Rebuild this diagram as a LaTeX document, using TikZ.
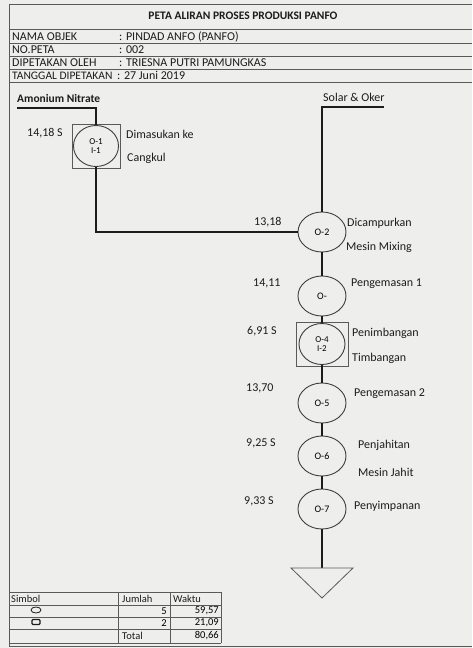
\documentclass[tikz,border=0pt]{standalone}
\usepackage{fontspec}
\setmainfont{Carlito}
\usetikzlibrary{shapes.geometric}
\definecolor{ink}{HTML}{1C1C1C}
\definecolor{paper}{HTML}{EEEEEC}
\definecolor{rulec}{HTML}{5A5A5A}

\begin{document}
\begin{tikzpicture}[x=1pt, y=-1pt, font=\fontsize{12}{13}\selectfont,
    flow/.style={ink, line width=1.7pt},
    opr/.style={ellipse, draw=ink!85, line width=0.9pt, fill=paper,
      minimum width=48pt, minimum height=40pt, inner sep=0pt,
      align=center, font=\fontsize{10}{10}\selectfont},
    insp/.style={rectangle, draw=rulec, line width=0.8pt,
      minimum height=44pt, inner sep=0pt},
    lbl/.style={anchor=west, inner sep=0pt, text=ink}]
    \useasboundingbox[fill=paper] (0,0) rectangle (472,648);
    % frame and header
    \draw[rulec, line width=0.9pt] (472,4) -| (9,646) -- (472,646);
    \foreach \y in {29,43,56,69,82}
      \draw[rulec, line width=0.9pt] (9,\y) -- (472,\y);
    \node[text=ink, font=\fontsize{11.5}{12}\bfseries] (title) at (243,16)
      {PETA ALIRAN PROSES PRODUKSI PANFO};
    \node[lbl] (k1) at (12,37) {NAMA OBJEK};
    \node[lbl] (v1) at (119,37) {: PINDAD ANFO (PANFO)};
    \node[lbl] (k2) at (12,49.5) {NO.PETA};
    \node[lbl] (v2) at (119,49.5) {: 002};
    \node[lbl] (k3) at (12,62.5) {DIPETAKAN OLEH};
    \node[lbl] (v3) at (119,62.5) {: TRIESNA PUTRI PAMUNGKAS};
    \node[lbl, font=\fontsize{11.5}{13}\selectfont] (k4) at (12,75.5)
      {TANGGAL DIPETAKAN};
    \node[lbl] (v4) at (117,75.5) {: 27 Juni 2019};

    % inputs
    \node[lbl, font=\fontsize{11.5}{12}\bfseries] (amn) at (17,99)
      {Amonium Nitrate};
    \node[lbl] (solar) at (323,97) {Solar \& Oker};
    \coordinate (am) at (17,108);
    \coordinate (so) at (384,107);

    % operations
    \node[insp, minimum width=48pt] (b1) at (96,146) {};
    \node[opr, minimum width=45pt, minimum height=41pt,
      font=\fontsize{9}{9}\selectfont] (o1) at (96,146) {O-1\\I-1};
    \node[opr] (o2) at (322,232) {O-2};
    \node[opr] (o3) at (322,296) {O-};
    \node[insp, minimum width=52pt] (b4) at (322,344) {};
    \node[opr, minimum width=46pt, minimum height=41pt,
      font=\fontsize{9}{9}\selectfont] (o4) at (322,344) {O-4\\I-2};
    \node[opr] (o5) at (322,403) {O-5};
    \node[opr] (o6) at (322,456) {O-6};
    \node[opr] (o7) at (322,509) {O-7};
    \coordinate (stor) at (322,568);

    % connectors
    \draw[flow] (am) -| (o1.north);
    \draw[flow] (so) -| (o2.north);
    \draw[flow] (o1.south) |- (o2.west);
    \foreach \a/\b in {o2/o3,o3/o4,o4/o5,o5/o6,o6/o7}
      \draw[flow] (\a.south) -- (\b.north);
    \draw[flow] (o7.south) -- (stor);
    \draw[rulec, line width=0.8pt] (stor) ++(-31,0) -- ++(62,0)
      -- ++(-31,30) -- cycle;

    % times
    \node[lbl] (t1) at (27,133) {14,18 S};
    \node[lbl] (t2) at (254,222) {13,18};
    \node[lbl] (t3) at (253,283) {14,11};
    \node[lbl] (t4) at (247,331) {6,91 S};
    \node[lbl] (t5) at (246,388) {13,70};
    \node[lbl] (t6) at (246,443) {9,25 S};
    \node[lbl] (t7) at (244,501) {9,33 S};

    % descriptions
    \node[lbl] (d1a) at (126,134) {Dimasukan ke};
    \node[lbl] (d1b) at (127,158) {Cangkul};
    \node[lbl] (d2a) at (347,223) {Dicampurkan};
    \node[lbl] (d2b) at (346,247) {Mesin Mixing};
    \node[lbl] (d3) at (351,284) {Pengemasan 1};
    \node[lbl] (d4a) at (352,333) {Penimbangan};
    \node[lbl] (d4b) at (352,358) {Timbangan};
    \node[lbl] (d5) at (354,394) {Pengemasan 2};
    \node[lbl] (d6a) at (358,445) {Penjahitan};
    \node[lbl] (d6b) at (358,472) {Mesin Jahit};
    \node[lbl] (d7) at (354,506) {Penyimpanan};

    % summary table
    \begin{scope}[font=\fontsize{10.5}{11}\selectfont]
      \foreach \y in {592,605,617,629,643}
        \draw[rulec, line width=0.8pt] (9,\y) -- (221,\y);
      \foreach \x in {118,170,221}
        \draw[rulec, line width=0.8pt] (\x,592) -- (\x,643);
      \node[lbl] (h1) at (11,599) {Simbol};
      \node[lbl] (h2) at (122,599) {Jumlah};
      \node[lbl] (h3) at (173,599) {Waktu};
      \node[ellipse, draw=ink, line width=0.8pt, minimum width=10pt,
        minimum height=6pt, inner sep=0pt] (s1) at (36,610) {};
      \node[rectangle, rounded corners=1pt, draw=ink, line width=1.3pt,
        minimum width=8pt, minimum height=5pt, inner sep=0pt] (s2)
        at (36,622) {};
      \node[anchor=east, inner sep=0pt] (n1) at (167,611) {5};
      \node[anchor=east, inner sep=0pt] (w1) at (219,611) {59,57};
      \node[anchor=east, inner sep=0pt] (n2) at (167,623) {2};
      \node[anchor=east, inner sep=0pt] (w2) at (219,623) {21,09};
      \node[lbl] (tot) at (122,636) {Total};
      \node[anchor=east, inner sep=0pt] (w3) at (219,636) {80,66};
    \end{scope}
  \end{tikzpicture}
\end{document}
